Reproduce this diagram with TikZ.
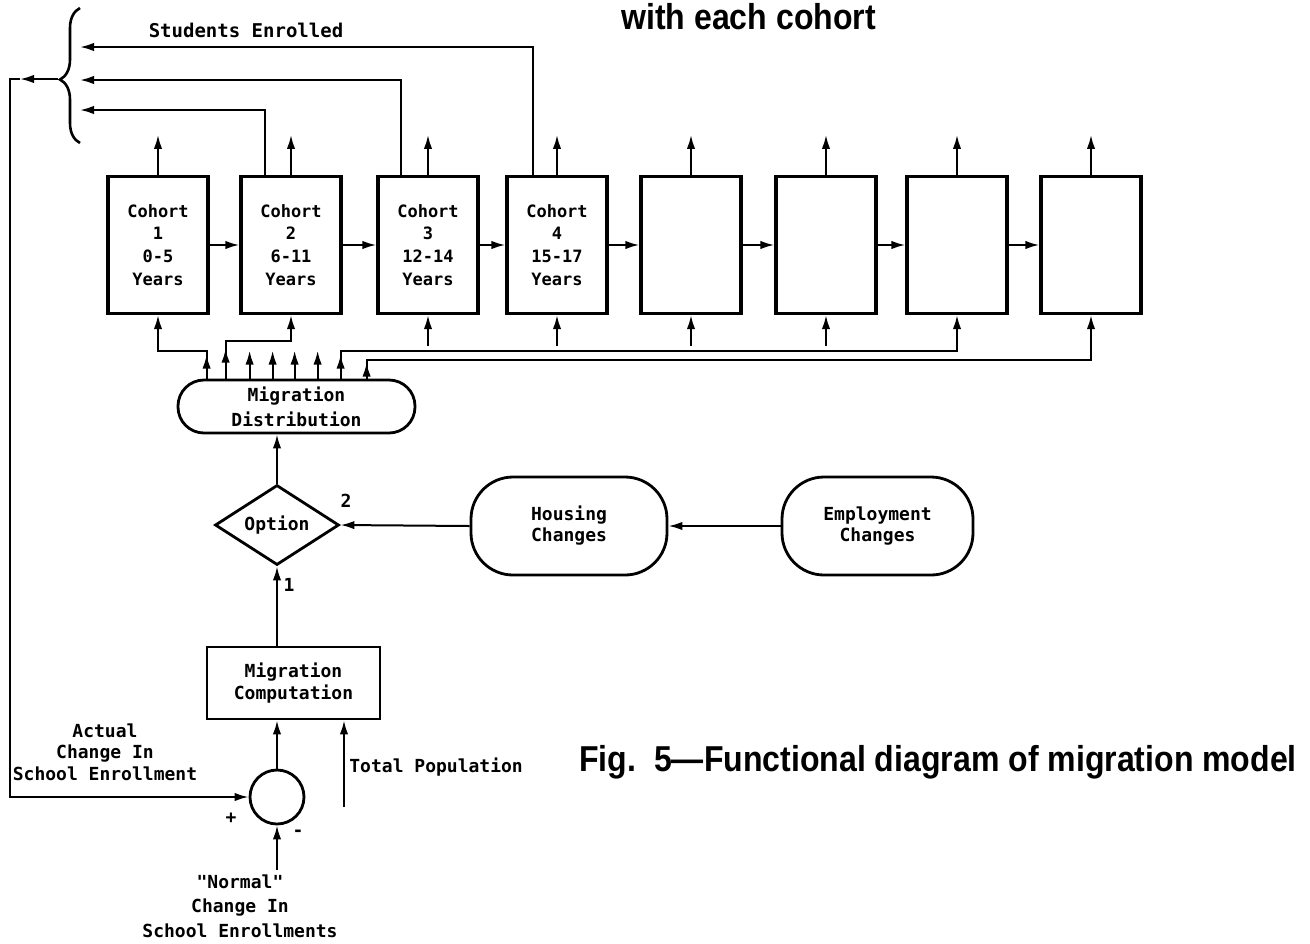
\documentclass[tikz,border=0pt]{standalone}
\usepackage{fontspec}
\setmonofont{DejaVu Sans Mono}
\newfontfamily\capfont[FakeStretch=0.89]{Liberation Sans}
\usetikzlibrary{arrows.meta,shapes.geometric,decorations.pathreplacing,decorations.markings,calc}
\begin{document}
\begin{tikzpicture}[x=0.5pt,y=-0.5pt,
  arr/.style={line width=1pt,-{Latex[length=7pt,width=4.2pt]}},
  midtip/.style={postaction={decorate},decoration={markings,mark=at position #1 with {\arrow{Latex[length=7pt,width=4.2pt]}}}},
  cohort/.style={draw,line width=1.6pt,minimum width=50pt,minimum height=68.5pt,inner sep=0pt,align=center,font=\ttfamily\bfseries\fontsize{8.5}{11.4}\selectfont},
  lbl/.style={font=\ttfamily\bfseries\fontsize{9}{11}\selectfont,align=center,inner sep=0pt},
  stadium/.style={draw,line width=1.4pt,align=center,inner sep=0pt},
]
\useasboundingbox (0,0) rectangle (1310,943);

% cohorts
\node[cohort] (c1) at (158,245) {Cohort\\1\\0-5\\Years};
\node[cohort] (c2) at (291,245) {Cohort\\2\\6-11\\Years};
\node[cohort] (c3) at (428,245) {Cohort\\3\\12-14\\Years};
\node[cohort] (c4) at (557,245) {Cohort\\4\\15-17\\Years};
\node[cohort] (c5) at (691,245) {};
\node[cohort] (c6) at (826,245) {};
\node[cohort] (c7) at (957,245) {};
\node[cohort] (c8) at (1091,245) {};

\foreach \a/\b in {1/2,2/3,3/4,4/5,5/6,6/7,7/8}
  \draw[arr] (c\a.east) -- (c\b.west);
\foreach \i in {1,...,8}
  \draw[arr] (c\i.north) -- ++(0,-40);

% students enrolled
\node[lbl,font=\ttfamily\bfseries\fontsize{9.5}{11}\selectfont] (se) at (246,30) {Students Enrolled};
\coordinate (s1) at (80,47);
\coordinate (s2) at (80,80);
\coordinate (s3) at (80,110);
\draw[arr] ($(c4.north)+(-24,0)$) |- (s1);
\draw[arr] ($(c3.north)+(-27,0)$) |- (s2);
\draw[arr] ($(c2.north)+(-26,0)$) |- (s3);
\draw[line width=1.3pt,decorate,decoration={brace,amplitude=10pt,aspect=0.47}] (80,143) -- (80,8);

% migration distribution
\node[stadium,minimum width=118.5pt,minimum height=26.5pt,rounded corners=13pt,font=\ttfamily\bfseries\fontsize{9}{12.5}\selectfont] (dist) at (296.5,406.5) {Migration\\Distribution};
\foreach \n/\dx in {1/30,2/49,3/73,4/96,5/118,6/141,7/164,8/190}
  \coordinate (d\n) at ($(dist.north west)+(\dx,0)$);
\draw[arr,midtip=12pt] (d1) -- ++(0,-28) -| (c1.south);
\draw[arr,midtip=15pt] (d2) -- ++(0,-38) -| (c2.south);
\foreach \n in {3,4,5,6}
  \draw[arr] (d\n) -- ++(0,-28);
\draw[arr,midtip=12pt] (d7) -- ++(0,-28) -| (c7.south);
\draw[arr,midtip=8pt] (d8) -- ++(0,-19) -| (c8.south);
\foreach \n in {3,4,5,6}
  \draw[arr] ($(c\n.south)+(0,31)$) -- (c\n.south);

% option
\node[draw,diamond,lbl,line width=1.4pt,minimum width=62pt,minimum height=40pt,aspect=1.5] (opt) at (277,525) {Option};
\draw[arr] (opt.north) -- (opt.north |- dist.south);
\node[lbl] (n2) at (346,501) {2};
\node[lbl] (n1) at (289,585) {1};

\node[stadium,minimum width=98pt,minimum height=49pt,rounded corners=21pt,font=\ttfamily\bfseries\fontsize{9}{10.5}\selectfont] (hous) at (569,526) {Housing\\Changes};
\node[stadium,minimum width=95.5pt,minimum height=49pt,rounded corners=21pt,font=\ttfamily\bfseries\fontsize{9}{10.5}\selectfont] (emp) at (877.5,526) {Employment\\Changes};
\draw[arr] (emp.west) -- (hous.west -| hous.east);
\draw[arr] (hous.west) -- (opt.east);

% computation
\node[draw,lbl,line width=1.4pt,minimum width=86.5pt,minimum height=36pt] (comp) at (293.5,683) {Migration\\Computation};
\draw[arr] (comp.north -| opt.south) -- (opt.south);

\node[draw,circle,line width=1.4pt,minimum size=27pt,inner sep=0pt] (circ) at (277,797) {};
\draw[arr] (circ.north) -- (circ.north |- comp.south);

\coordinate (tp) at (344,807);
\draw[arr] (tp) -- (tp |- comp.south);
\node[lbl,anchor=west] (tpl) at (349,767) {Total Population};

\node[lbl] (plus) at (231,818) {+};
\node[lbl] (minus) at (298,833) {-};
\coordinate (nb) at (277,870);
\draw[arr] (nb) -- (circ.south);

% feedback
\coordinate (bt) at (58,79);
\coordinate (fa) at (20,79);
\coordinate (fc) at (10,79);
\draw[arr] (bt) -- (fa);
\draw[arr] (fa) -- (fc) |- (circ.west);

\node[lbl,font=\ttfamily\bfseries\fontsize{9}{10.75}\selectfont] (act) at (105,752) {Actual\\Change In\\School Enrollment};
\node[lbl,font=\ttfamily\bfseries\fontsize{9}{12.25}\selectfont] (norm) at (240,906) {"Normal"\\Change In\\School Enrollments};

% captions
\node[anchor=base west,inner sep=0pt,font=\capfont\bfseries\fontsize{18}{20}\selectfont] (cap) at (579,771) {Fig.\ \ 5—Functional diagram of migration model};
\node[anchor=base west,inner sep=0pt,font=\capfont\bfseries\fontsize{18}{20}\selectfont] (topt) at (621,29) {with each cohort};
\end{tikzpicture}
\end{document}
